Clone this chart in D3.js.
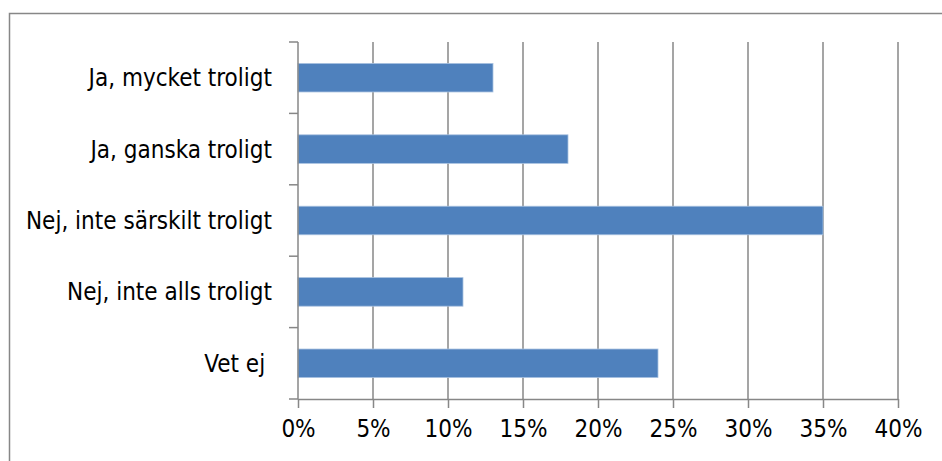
<!DOCTYPE html>
<html>
<head>
<meta charset="utf-8">
<script src="https://cdn.jsdelivr.net/npm/d3@7"></script>
<style>
  html, body { margin: 0; padding: 0; background: #fff; }
  svg { display: block; }
  text { font-family: "Liberation Sans Narrow", "DejaVu Sans Condensed", "Liberation Sans", sans-serif; fill: #000; }
</style>
</head>
<body>
<svg id="chart" width="942" height="461"></svg>
<script>
// Survey answers (top to bottom) and their shares in percent
const categories = [
  "Ja, mycket troligt",
  "Ja, ganska troligt",
  "Nej, inte särskilt troligt",
  "Nej, inte alls troligt",
  "Vet ej "
];
const shares = [13, 18, 35, 11, 24];
const tickValues = [0, 5, 10, 15, 20, 25, 30, 35, 40];

const svg = d3.select("#chart");
const plot = { left: 298, right: 898, top: 42, bottom: 399 };
const gridColor = "#878787";
const fontSize = 24;

// outer chart frame (runs past the right and bottom edges)
svg.append("rect")
  .attr("x", 9.5).attr("y", 13.5)
  .attr("width", 1000).attr("height", 1000)
  .attr("fill", "none")
  .attr("stroke", gridColor)
  .attr("stroke-width", 1.5);

const x = d3.scaleLinear().domain([0, 40]).range([plot.left, plot.right]);
const y = d3.scaleBand().domain(categories).range([plot.top, plot.bottom])
  .paddingInner(0.6).paddingOuter(0.3);
const yBand = d3.scaleBand().domain(categories).range([plot.top, plot.bottom]);

// vertical gridlines
svg.append("g").selectAll("line")
  .data(tickValues.slice(1))
  .join("line")
  .attr("x1", d => x(d)).attr("x2", d => x(d))
  .attr("y1", plot.top).attr("y2", plot.bottom)
  .attr("stroke", gridColor).attr("stroke-width", 1.5);

// bars
svg.append("g").selectAll("rect")
  .data(categories)
  .join("rect")
  .attr("x", x(0))
  .attr("y", d => y(d))
  .attr("width", (d, i) => x(shares[i]) - x(0))
  .attr("height", y.bandwidth())
  .attr("fill", "#4F81BD")
  .attr("stroke", "#A9C2E0")
  .attr("stroke-width", 0.8);

// x axis
const xAxis = d3.axisBottom(x)
  .tickValues(tickValues)
  .tickFormat(d => d + "%")
  .tickSizeInner(9).tickSizeOuter(0).tickPadding(12);
const gx = svg.append("g")
  .attr("transform", `translate(0,${plot.bottom})`)
  .call(xAxis);
gx.select(".domain").attr("stroke", gridColor).attr("stroke-width", 1.5);
gx.selectAll(".tick line").attr("stroke", gridColor).attr("stroke-width", 1.5);
gx.selectAll(".tick text")
  .attr("font-size", fontSize)
  .style("font-family", '"Liberation Sans Narrow", "DejaVu Sans Condensed", sans-serif');

// y axis: ticks sit on band boundaries
const bounds = categories.map(c => yBand(c)).concat([plot.bottom]);
const gy = svg.append("g");
gy.append("line")
  .attr("x1", plot.left).attr("x2", plot.left)
  .attr("y1", plot.top).attr("y2", plot.bottom)
  .attr("stroke", gridColor).attr("stroke-width", 1.5);
gy.selectAll("line.tick")
  .data(bounds)
  .join("line")
  .attr("class", "tick")
  .attr("x1", plot.left - 9).attr("x2", plot.left)
  .attr("y1", d => d).attr("y2", d => d)
  .attr("stroke", gridColor).attr("stroke-width", 1.5);
gy.selectAll("text")
  .data(categories)
  .join("text")
  .attr("x", 272)
  .attr("y", d => yBand(d) + yBand.bandwidth() / 2)
  .attr("dy", "0.35em")
  .attr("text-anchor", "end")
  .attr("font-size", fontSize)
  .style("white-space", "pre")
  .text(d => d);
</script>
</body>
</html>
